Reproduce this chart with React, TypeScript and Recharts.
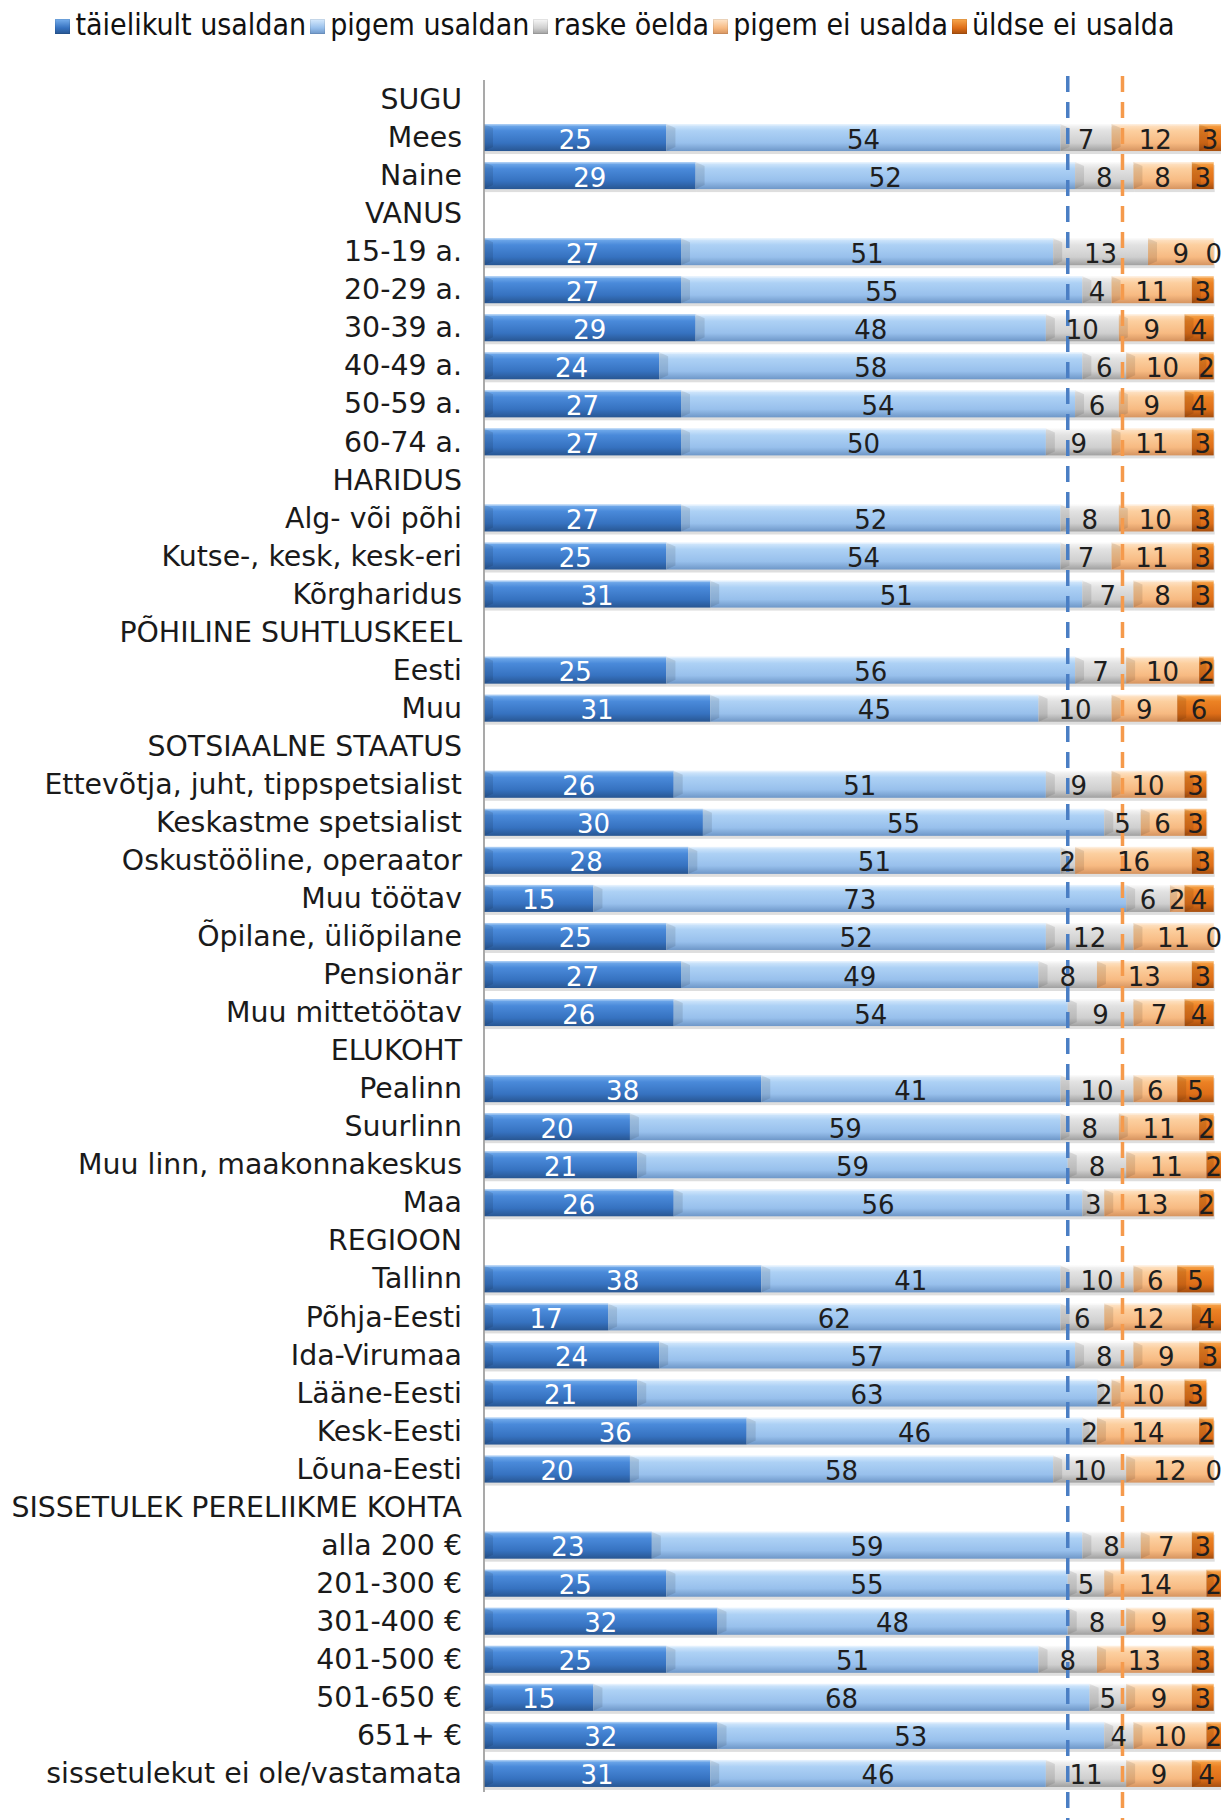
import React from "react";
import {
  BarChart,
  Bar,
  XAxis,
  YAxis,
  Legend,
  LabelList,
  ReferenceLine,
} from "recharts";

const categories = [
  "SUGU", "Mees", "Naine",
  "VANUS", "15-19 a.", "20-29 a.", "30-39 a.", "40-49 a.", "50-59 a.", "60-74 a.",
  "HARIDUS", "Alg- või põhi", "Kutse-, kesk, kesk-eri", "Kõrgharidus",
  "PÕHILINE SUHTLUSKEEL", "Eesti", "Muu",
  "SOTSIAALNE STAATUS", "Ettevõtja, juht, tippspetsialist", "Keskastme spetsialist",
  "Oskustööline, operaator", "Muu töötav", "Õpilane, üliõpilane", "Pensionär", "Muu mittetöötav",
  "ELUKOHT", "Pealinn", "Suurlinn", "Muu linn, maakonnakeskus", "Maa",
  "REGIOON", "Tallinn", "Põhja-Eesti", "Ida-Virumaa", "Lääne-Eesti", "Kesk-Eesti", "Lõuna-Eesti",
  "SISSETULEK PERELIIKME KOHTA", "alla 200 €", "201-300 €", "301-400 €", "401-500 €",
  "501-650 €", "651+ €", "sissetulekut ei ole/vastamata",
];

const N = null;
const taielikultUsaldan = [
  N, 25, 29,
  N, 27, 27, 29, 24, 27, 27,
  N, 27, 25, 31,
  N, 25, 31,
  N, 26, 30, 28, 15, 25, 27, 26,
  N, 38, 20, 21, 26,
  N, 38, 17, 24, 21, 36, 20,
  N, 23, 25, 32, 25, 15, 32, 31,
];
const pigemUsaldan = [
  N, 54, 52,
  N, 51, 55, 48, 58, 54, 50,
  N, 52, 54, 51,
  N, 56, 45,
  N, 51, 55, 51, 73, 52, 49, 54,
  N, 41, 59, 59, 56,
  N, 41, 62, 57, 63, 46, 58,
  N, 59, 55, 48, 51, 68, 53, 46,
];
const raskeOelda = [
  N, 7, 8,
  N, 13, 4, 10, 6, 6, 9,
  N, 8, 7, 7,
  N, 7, 10,
  N, 9, 5, 2, 6, 12, 8, 9,
  N, 10, 8, 8, 3,
  N, 10, 6, 8, 2, 2, 10,
  N, 8, 5, 8, 8, 5, 4, 11,
];
const pigemEiUsalda = [
  N, 12, 8,
  N, 9, 11, 9, 10, 9, 11,
  N, 10, 11, 8,
  N, 10, 9,
  N, 10, 6, 16, 2, 11, 13, 7,
  N, 6, 11, 11, 13,
  N, 6, 12, 9, 10, 14, 12,
  N, 7, 14, 9, 13, 9, 10, 9,
];
const uldseEiUsalda = [
  N, 3, 3,
  N, 0, 3, 4, 2, 4, 3,
  N, 3, 3, 3,
  N, 2, 6,
  N, 3, 3, 3, 4, 0, 3, 4,
  N, 5, 2, 2, 2,
  N, 5, 4, 3, 3, 2, 0,
  N, 3, 2, 3, 3, 3, 2, 4,
];

const seriesNames = [
  "täielikult usaldan",
  "pigem usaldan",
  "raske öelda",
  "pigem ei usalda",
  "üldse ei usalda",
];

const referenceValues = [80, 87.5];

const data = categories.map((name, i) => ({
  name,
  s1: taielikultUsaldan[i],
  s2: pigemUsaldan[i],
  s3: raskeOelda[i],
  s4: pigemEiUsalda[i],
  s5: uldseEiUsalda[i],
}));

const gradients = [
  { id: "g1", stops: ["#78b0ee", "#4a8ada", "#3672c0", "#285692"] },
  { id: "g2", stops: ["#d8ebfd", "#add1f5", "#98c0ec", "#6e97c8"] },
  { id: "g3", stops: ["#f8f8f8", "#e2e2e2", "#cfcfcf", "#a0a0a0"] },
  { id: "g4", stops: ["#fee6cc", "#fccf9f", "#f7ba82", "#d69460"] },
  { id: "g5", stops: ["#f8a84e", "#ec8224", "#de6e18", "#a64e0e"] },
];
const legendCss = [
  "linear-gradient(#78b0ee,#3672c0 60%,#285692)",
  "linear-gradient(#d8ebfd,#98c0ec 60%,#6e97c8)",
  "linear-gradient(#f8f8f8,#cfcfcf 60%,#a0a0a0)",
  "linear-gradient(#fee6cc,#f7ba82 60%,#d69460)",
  "linear-gradient(#f8a84e,#de6e18 60%,#a64e0e)",
];
const labelColors = ["#ffffff", "#1e1e1e", "#1e1e1e", "#1e1e1e", "#1e1e1e"];
const keys = ["s1", "s2", "s3", "s4", "s5"];
const refColors = ["#4a7ec4", "#f59a4c"];

const FONT = "'DejaVu Sans', Verdana, sans-serif";

const makeLabel = (color: string) => (props: any) => {
  const { x, y, width, height, value } = props;
  if (value === null || value === undefined) return null;
  return (
    <text
      x={Number(x) + Number(width) / 2}
      y={Number(y) + Number(height) / 2 + 2}
      fill={color}
      fontSize={26}
      fontFamily={FONT}
      textAnchor="middle"
      dominantBaseline="central"
    >
      {value}
    </text>
  );
};

const BarShape = (idx: number) => (props: any) => {
  const { x, y, width, height } = props;
  if (!width || width <= 0 || !height) return <g />;
  const bev = Math.min(9, width / 2);
  return (
    <g>
      <rect x={x + 1} y={y + 3} width={width} height={height} fill="#000" opacity={0.13} />
      <rect x={x} y={y} width={width} height={height} fill={`url(#${gradients[idx].id})`} />
      <polygon
        points={`${x},${y} ${x + bev},${y + 4} ${x + bev},${y + height - 4} ${x},${y + height}`}
        fill="#000"
        opacity={0.1}
      />
      <rect x={x} y={y} width={width} height={1.5} fill="#fff" opacity={0.35} />
    </g>
  );
};

const LegendContent = () => (
  <div
    style={{
      display: "flex",
      justifyContent: "center",
      alignItems: "center",
      fontFamily: "'DejaVu Sans Condensed', 'DejaVu Sans', sans-serif",
      fontSize: 30,
      color: "#111",
      whiteSpace: "nowrap",
    }}
  >
    {seriesNames.map((n, i) => (
      <span key={n} style={{ display: "inline-flex", alignItems: "center", marginRight: i < 4 ? 4 : 0 }}>
        <span
          style={{
            display: "inline-block",
            width: 15,
            height: 15,
            background: legendCss[i],
            marginRight: 5,
            marginTop: 4,
            boxShadow: "inset 0 0 0 1px rgba(0,0,0,0.08)",
          }}
        />
        {n}
      </span>
    ))}
  </div>
);

export default function App() {
  return (
    <div style={{ width: 1230, height: 1820, background: "#fff" }}>
      <style>{`body{margin:0;background:#fff;}`}</style>
      <BarChart
        width={1230}
        height={1820}
        data={data}
        layout="vertical"
        margin={{ top: 80, right: 9, bottom: 28, left: 0 }}
        barSize={27}
      >
        <defs>
          {gradients.map((g) => (
            <linearGradient key={g.id} id={g.id} x1="0" y1="0" x2="0" y2="1">
              <stop offset="0%" stopColor={g.stops[0]} />
              <stop offset="25%" stopColor={g.stops[1]} />
              <stop offset="70%" stopColor={g.stops[2]} />
              <stop offset="100%" stopColor={g.stops[3]} />
            </linearGradient>
          ))}
        </defs>
        <XAxis type="number" domain={[0, 101]} hide allowDataOverflow />
        <YAxis
          type="category"
          dataKey="name"
          width={484}
          interval={0}
          tickLine={false}
          tickSize={0}
          tickMargin={22}
          axisLine={{ stroke: "#8c8c8c", strokeWidth: 1.5 }}
          tick={{ fontSize: 28.4, fill: "#1a1a1a", fontFamily: FONT }}
        />
        <Legend
          verticalAlign="middle"
          align="center"
          layout="horizontal"
          wrapperStyle={{ top: 7, left: 0, width: 1230 }}
          content={<LegendContent />}
        />
        {keys.map((k, i) => (
          <Bar
            key={k}
            dataKey={k}
            name={seriesNames[i]}
            stackId="a"
            fill={`url(#${gradients[i].id})`}
            isAnimationActive={false}
            shape={BarShape(i)}
          >
            <LabelList dataKey={k} content={makeLabel(labelColors[i])} />
          </Bar>
        ))}
        {referenceValues.map((v, i) => (
          <ReferenceLine
            key={v}
            x={v}
            stroke={refColors[i]}
            strokeWidth={3.5}
            strokeDasharray="16 10"
            shape={(p: any) => (
              <line
                x1={p.x1}
                x2={p.x2}
                y1={Math.min(p.y1, p.y2) - 4}
                y2={Math.max(p.y1, p.y2) + 40}
                stroke={refColors[i]}
                strokeWidth={3.5}
                strokeDasharray="16 10"
              />
            )}
          />
        ))}
      </BarChart>
    </div>
  );
}
